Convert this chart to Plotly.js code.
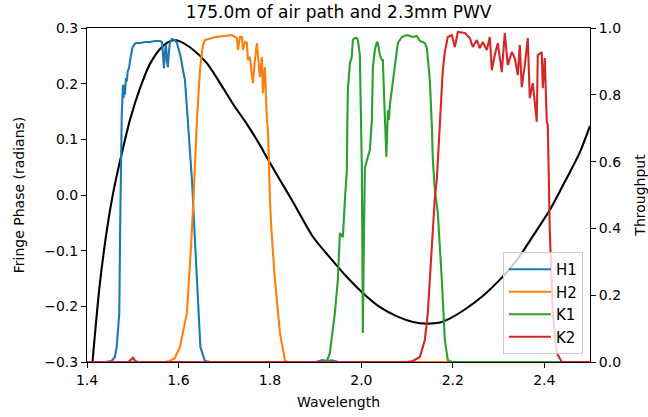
<!DOCTYPE html>
<html>
<head>
<meta charset="utf-8">
<script src="https://cdn.plot.ly/plotly-3.0.1.min.js"></script>
<style>html,body{margin:0;padding:0;background:#fff;}#chart{width:648px;height:417px;}</style>
</head>
<body>
<div id="chart"></div>
<script>
// Fringe phase (left axis)
const phaseWl = [1.412, 1.428, 1.444, 1.457, 1.472, 1.494, 1.516, 1.538, 1.564, 1.588, 1.603, 1.632, 1.662, 1.691, 1.719, 1.750, 1.778, 1.793, 1.822, 1.848, 1.859, 1.894, 1.931, 1.968, 2.003, 2.040, 2.078, 2.113, 2.143, 2.172, 2.193, 2.231, 2.266, 2.303, 2.340, 2.375, 2.412, 2.440, 2.456, 2.478, 2.500];
const phase = [-0.30, -0.16, -0.06, 0.003, 0.06, 0.135, 0.192, 0.236, 0.266, 0.278, 0.276, 0.261, 0.237, 0.201, 0.164, 0.127, 0.090, 0.068, 0.027, -0.009, -0.025, -0.075, -0.112, -0.147, -0.176, -0.201, -0.218, -0.228, -0.231, -0.229, -0.222, -0.203, -0.181, -0.152, -0.117, -0.074, -0.027, 0.016, 0.041, 0.077, 0.124];

// Filter throughputs (right axis)
const h1Wl = [1.400, 1.440, 1.454, 1.461, 1.465, 1.4706, 1.4725, 1.4745, 1.476, 1.4787, 1.480, 1.481, 1.483, 1.485, 1.487, 1.489, 1.492, 1.494, 1.496, 1.499, 1.503, 1.507, 1.516, 1.527, 1.538, 1.549, 1.5596, 1.5639, 1.5661, 1.5683, 1.5705, 1.5727, 1.5749, 1.577, 1.5792, 1.5814, 1.5858, 1.5923, 1.5967, 1.6011, 1.6055, 1.6098, 1.6142, 1.6186, 1.625, 1.6295, 1.6404, 1.648, 1.6579, 1.670, 1.900, 1.915, 1.925, 1.935, 1.950, 2.500];
const h1T = [0, 0, 0.003, 0.015, 0.045, 0.147, 0.40, 0.60, 0.74, 0.83, 0.79, 0.83, 0.80, 0.85, 0.84, 0.87, 0.88, 0.90, 0.92, 0.94, 0.95, 0.955, 0.955, 0.958, 0.958, 0.961, 0.961, 0.958, 0.92, 0.88, 0.93, 0.95, 0.90, 0.883, 0.93, 0.958, 0.967, 0.964, 0.955, 0.934, 0.91, 0.874, 0.844, 0.76, 0.635, 0.545, 0.246, 0.045, 0.003, 0, 0, 0.006, 0.003, 0.005, 0, 0];

const h2Wl = [1.400, 1.570, 1.5814, 1.592, 1.6033, 1.6186, 1.6273, 1.6328, 1.6404, 1.647, 1.6535, 1.658, 1.668, 1.680, 1.695, 1.717, 1.7279, 1.730, 1.7344, 1.7388, 1.741, 1.7454, 1.7497, 1.7519, 1.7563, 1.7628, 1.7672, 1.7716, 1.7781, 1.7825, 1.7847, 1.789, 1.7934, 1.7956, 1.7978, 1.800, 1.8033, 1.811, 1.8219, 1.8284, 1.8328, 1.839, 2.500];
const h2T = [0, 0, 0.003, 0.012, 0.045, 0.147, 0.344, 0.485, 0.725, 0.874, 0.949, 0.964, 0.968, 0.973, 0.975, 0.979, 0.970, 0.934, 0.973, 0.973, 0.934, 0.958, 0.955, 0.904, 0.913, 0.835, 0.904, 0.955, 0.853, 0.913, 0.805, 0.883, 0.725, 0.695, 0.605, 0.485, 0.395, 0.246, 0.087, 0.036, 0.006, 0, 0];

const k1Wl = [1.400, 1.915, 1.9246, 1.9311, 1.9421, 1.9486, 1.953, 1.9596, 1.964, 1.9683, 1.9694, 1.9705, 1.9749, 1.979, 1.9814, 1.9858, 1.990, 1.9924, 1.9967, 1.9989, 2.0011, 2.0022, 2.0033, 2.005, 2.0066, 2.0077, 2.0142, 2.0186, 2.023, 2.0252, 2.0295, 2.0339, 2.0361, 2.0405, 2.0449, 2.047, 2.0492, 2.0514, 2.0547, 2.058, 2.0602, 2.0623, 2.0667, 2.0733, 2.0798, 2.0886, 2.0995, 2.1126, 2.1213, 2.1279, 2.1388, 2.1432, 2.1497, 2.1541, 2.1563, 2.1607, 2.1672, 2.176, 2.1825, 2.189, 2.198, 2.500];
const k1T = [0, 0, 0.003, 0.027, 0.147, 0.246, 0.386, 0.374, 0.485, 0.575, 0.725, 0.814, 0.895, 0.913, 0.964, 0.970, 0.970, 0.964, 0.919, 0.784, 0.575, 0.335, 0.087, 0.305, 0.545, 0.581, 0.614, 0.635, 0.725, 0.883, 0.934, 0.958, 0.955, 0.919, 0.904, 0.904, 0.814, 0.70, 0.614, 0.754, 0.725, 0.77, 0.814, 0.886, 0.955, 0.973, 0.979, 0.973, 0.976, 0.961, 0.955, 0.94, 0.844, 0.71, 0.605, 0.515, 0.446, 0.246, 0.066, 0.006, 0, 0];

const k2Wl = [1.400, 1.490, 1.497, 1.5005, 1.504, 1.510, 2.100, 2.1126, 2.1279, 2.1388, 2.1453, 2.1541, 2.1607, 2.165, 2.1716, 2.1781, 2.1825, 2.189, 2.1978, 2.2044, 2.211, 2.2263, 2.2372, 2.2437, 2.2525, 2.259, 2.2656, 2.2743, 2.2809, 2.2853, 2.2918, 2.2984, 2.3071, 2.3137, 2.3202, 2.329, 2.3355, 2.3421, 2.3464, 2.3508, 2.3574, 2.3639, 2.3683, 2.3749, 2.3836, 2.3858, 2.3945, 2.3967, 2.4011, 2.4055, 2.4077, 2.4098, 2.412, 2.4186, 2.4273, 2.4383, 2.500];
const k2T = [0, 0, 0.008, 0.013, 0.006, 0, 0, 0.003, 0.015, 0.066, 0.147, 0.344, 0.494, 0.545, 0.725, 0.874, 0.928, 0.973, 0.979, 0.943, 0.988, 0.985, 0.970, 0.943, 0.964, 0.94, 0.958, 0.934, 0.973, 0.874, 0.919, 0.955, 0.868, 0.985, 0.889, 0.928, 0.910, 0.859, 0.949, 0.823, 0.889, 0.970, 0.790, 0.835, 0.719, 0.919, 0.928, 0.820, 0.910, 0.719, 0.710, 0.545, 0.395, 0.147, 0.027, 0, 0];

const filterNames = ['H1', 'H2', 'K1', 'K2'];
const filterColors = ['#1f77b4', '#ff7f0e', '#2ca02c', '#d62728'];
const filterWl = [h1Wl, h2Wl, k1Wl, k2Wl];
const filterT = [h1T, h2T, k1T, k2T];

const xTicks = [1.4, 1.6, 1.8, 2.0, 2.2, 2.4];
const yTicks = [-0.3, -0.2, -0.1, 0.0, 0.1, 0.2, 0.3];
const y2Ticks = [0.0, 0.2, 0.4, 0.6, 0.8, 1.0];

const traces = [{
  x: phaseWl, y: phase, type: 'scatter', mode: 'lines',
  line: {color: 'black', width: 2.1, shape: 'spline', smoothing: 0.8},
  showlegend: false, yaxis: 'y', hoverinfo: 'skip'
}];
for (let i = 0; i < filterNames.length; i++) {
  traces.push({
    x: filterWl[i], y: filterT[i], type: 'scatter', mode: 'lines',
    name: filterNames[i], line: {color: filterColors[i], width: 2.1},
    yaxis: 'y2', hoverinfo: 'skip'
  });
}

const axisCommon = {
  ticks: 'outside', ticklen: 5, tickwidth: 1, tickcolor: 'black',
  showline: true, linecolor: 'black', linewidth: 1,
  showgrid: false, zeroline: false, tickformat: '.1f',
  tickfont: {size: 14, color: 'black'}
};

const layout = {
  width: 648, height: 417,
  margin: {l: 87, r: 58, t: 28, b: 55},
  paper_bgcolor: 'white', plot_bgcolor: 'white',
  font: {family: 'DejaVu Sans', size: 14, color: 'black'},
  title: {text: '175.0m of air path and 2.3mm PWV', font: {size: 17, color: 'black'},
          x: 0.5, xref: 'paper', xanchor: 'center', y: 0.972, yref: 'container', yanchor: 'middle'},
  xaxis: Object.assign({}, axisCommon, {range: [1.4, 2.5], tickvals: xTicks, mirror: true,
          title: {text: 'Wavelength', font: {size: 14}, standoff: 10}}),
  yaxis: Object.assign({}, axisCommon, {range: [-0.3, 0.3], tickvals: yTicks,
          title: {text: 'Fringe Phase (radians)', font: {size: 14}, standoff: 16}}),
  yaxis2: Object.assign({}, axisCommon, {range: [0, 1], tickvals: y2Ticks, overlaying: 'y', side: 'right',
          title: {text: 'Throughput', font: {size: 14}, standoff: 16}}),
  legend: {x: 0.986, xanchor: 'right', y: 0.024, yanchor: 'bottom',
           bgcolor: 'rgba(255,255,255,0.8)', bordercolor: '#cccccc', borderwidth: 1,
           itemwidth: 42, font: {size: 15, color: 'black'}},
  showlegend: true
};

Plotly.newPlot('chart', traces, layout, {staticPlot: true, displayModeBar: false});
</script>
</body>
</html>
